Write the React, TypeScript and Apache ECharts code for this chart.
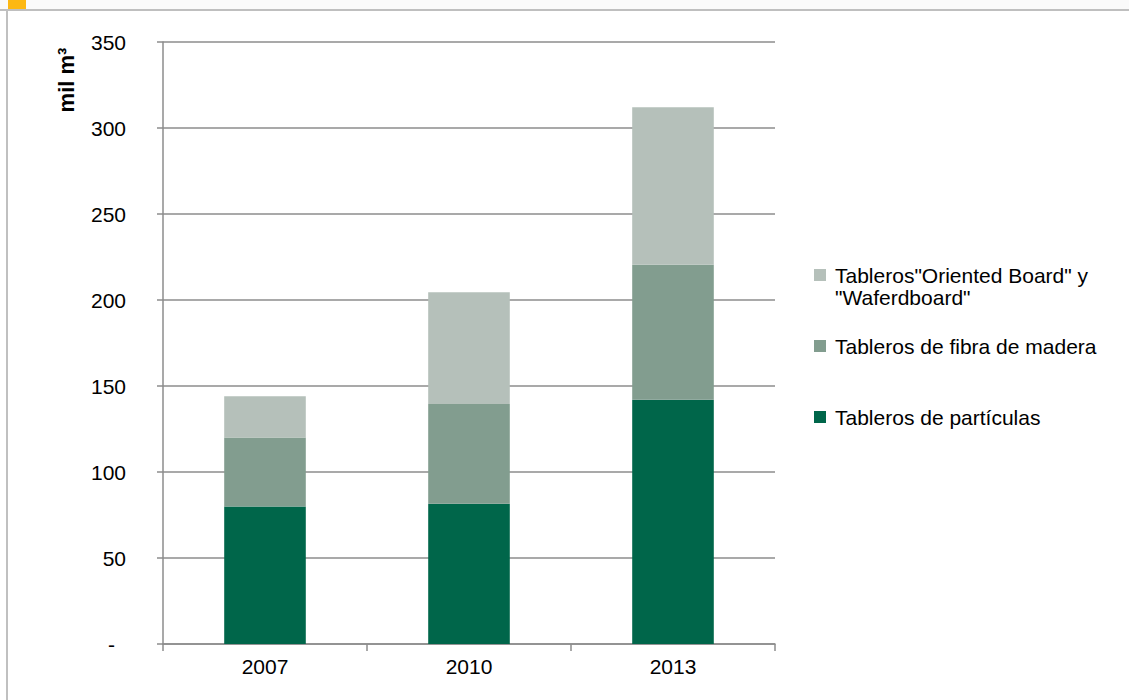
import React, { useEffect, useRef } from "react";
import * as echarts from "echarts";

const categories = ["2007", "2010", "2013"];
const particulas = [80, 81.5, 142];
const fibra = [40, 58, 78.5];
const osb = [24, 65, 91.5];
const seriesNames = [
  "Tableros de partículas",
  "Tableros de fibra de madera",
  "Tableros\"Oriented Board\" y \"Waferdboard\"",
];
const yTicks = { min: 0, max: 350, interval: 50 };

const FONT = "Liberation Sans";
const FS = 21;

export default function App() {
  const ref = useRef<HTMLDivElement>(null);
  useEffect(() => {
    const chart = echarts.init(ref.current!, undefined, { renderer: "svg" });
    const legendBase = {
      orient: "vertical",
      left: 814,
      padding: 0,
      icon: "rect",
      itemWidth: 12,
      itemHeight: 12,
      itemGap: 0,
    };
    const txt = { fontFamily: FONT, fontSize: FS, color: "#000", lineHeight: 22, padding: [0, 0, 0, 4] };
    chart.setOption({
      animation: false,
      backgroundColor: "#fff",
      textStyle: { fontFamily: FONT },
      grid: { left: 163, right: 354, top: 42, bottom: 56, containLabel: false },
      legend: [
        {
          ...legendBase,
          top: 242,
          data: [seriesNames[2]],
          formatter: () => "\nTableros\"Oriented Board\" y\n\"Waferdboard\"",
          textStyle: txt,
        },
        { ...legendBase, top: 335, data: [seriesNames[1]], textStyle: txt },
        { ...legendBase, top: 406, data: [seriesNames[0]], textStyle: txt },
      ],
      xAxis: {
        type: "category",
        data: categories,
        boundaryGap: true,
        axisLine: { lineStyle: { color: "#8c8c8c", width: 1.5 } },
        axisTick: { show: true, alignWithLabel: false, length: 7, lineStyle: { color: "#8c8c8c", width: 1.5 } },
        axisLabel: { fontFamily: FONT, fontSize: FS, color: "#000", margin: 12 },
      },
      yAxis: {
        type: "value",
        min: yTicks.min,
        max: yTicks.max,
        interval: yTicks.interval,
        axisLine: { show: true, lineStyle: { color: "#8c8c8c", width: 1.5 } },
        axisTick: { show: true, inside: false, length: 6, lineStyle: { color: "#8c8c8c", width: 1.5 } },
        splitLine: { show: true, lineStyle: { color: "#8c8c8c", width: 1.5 } },
        axisLabel: {
          fontFamily: FONT,
          fontSize: FS,
          color: "#000",
          margin: 37,
          formatter: (v: number) => (v === 0 ? "{d|-}" : String(v)),
          rich: { d: { fontFamily: FONT, fontSize: FS, color: "#000", padding: [0, 11, 0, 0] } },
        },
      },
      series: [
        { name: seriesNames[0], type: "bar", stack: "t", data: particulas, barWidth: "40%", itemStyle: { color: "#00664A" } },
        { name: seriesNames[1], type: "bar", stack: "t", data: fibra, barWidth: "40%", itemStyle: { color: "#829D8F" } },
        { name: seriesNames[2], type: "bar", stack: "t", data: osb, barWidth: "40%", itemStyle: { color: "#B5C0BA" } },
      ],
      graphic: [
        { type: "rect", shape: { x: 0, y: 0, width: 1129, height: 9 }, style: { fill: "#fafafa" }, silent: true },
        { type: "line", shape: { x1: 0, y1: 10, x2: 1129, y2: 10 }, style: { stroke: "#bfbfbf", lineWidth: 2 }, silent: true },
        { type: "line", shape: { x1: 7, y1: 10, x2: 7, y2: 700 }, style: { stroke: "#c0c0c0", lineWidth: 2 }, silent: true },
        { type: "rect", shape: { x: 8, y: 0, width: 18, height: 9 }, style: { fill: "#FDB813" }, silent: true },
        {
          type: "text",
          x: 66,
          y: 80,
          rotation: Math.PI / 2,
          style: { text: "mil m³", fontFamily: FONT, fontSize: 22, fontWeight: "bold", fill: "#000", align: "center", verticalAlign: "middle" },
          silent: true,
        },
      ],
    });
    return () => chart.dispose();
  }, []);
  return <div ref={ref} style={{ position: "absolute", left: 0, top: 0, width: 1129, height: 700 }} />;
}
